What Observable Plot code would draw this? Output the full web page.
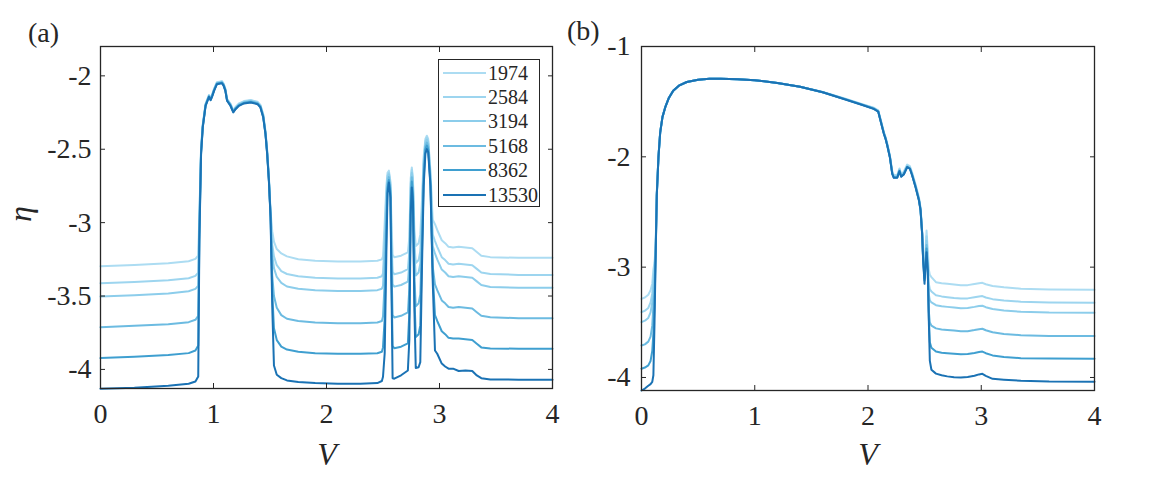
<!DOCTYPE html>
<html><head><meta charset="utf-8">
<script src="https://cdn.jsdelivr.net/npm/d3@7"></script>
<script src="https://cdn.jsdelivr.net/npm/@observablehq/plot@0.6"></script>
<style>
body{margin:0;background:#fff;}
#wrap{position:relative;width:1150px;height:478px;overflow:hidden;font-family:"Liberation Serif",serif;color:#262626;}
.panel{position:absolute;top:0;}
.lbl{position:absolute;font-family:"Liberation Serif",serif;color:#262626;white-space:nowrap;line-height:1;}
</style></head><body>
<div id="wrap"></div>
<script>
// ---------- data ----------
const series = ["1974", "2584", "3194", "5168", "8362", "13530"];
const colors = ["#acdcf2", "#9dd5ef", "#8ccdeb", "#6cbbe1", "#3f9fd0", "#1a72b4"];
const xTicks = [0, 1, 2, 3, 4];
const yTicksA = [-4, -3.5, -3, -2.5, -2];
const yTicksB = [-4, -3, -2, -1];

// panel (a)
const vA = [0, 0.3, 0.6, 0.78, 0.84, 0.865,
  0.875, 0.89, 0.905, 0.93, 0.96, 0.975, 0.99, 1.005, 1.03, 1.075, 1.09, 1.105, 1.12, 1.15, 1.175, 1.195, 1.225, 1.27, 1.33, 1.39, 1.415, 1.44,
  1.46, 1.475, 1.49, 1.505, 1.52, 1.535, 1.56, 1.6, 1.65, 1.75, 1.9, 2.1, 2.3, 2.45, 2.49,
  2.50, 2.515, 2.53, 2.54, 2.552, 2.566, 2.575, 2.585, 2.60, 2.66, 2.72, 2.733, 2.745, 2.755, 2.765, 2.778, 2.79, 2.815, 2.83, 2.845,
  2.86, 2.875, 2.888, 2.90, 2.92, 2.94, 2.96, 2.98, 3.02, 3.05, 3.08, 3.12, 3.17, 3.23, 3.29, 3.33, 3.37, 3.45, 3.7, 4.0];
const a1974 = [-3.297, -3.288, -3.277, -3.263, -3.247, -3.224,
  -2.95, -2.49, -2.33, -2.19, -2.13, -2.152, -2.122, -2.088, -2.043, -2.036, -2.054, -2.088, -2.156, -2.19, -2.234, -2.212, -2.188, -2.172, -2.165, -2.177, -2.198, -2.262,
  -2.375, -2.505, -2.685, -2.925, -3.06, -3.13, -3.18, -3.21, -3.23, -3.25, -3.26, -3.265, -3.265, -3.26, -3.25,
  -3.23, -3.0, -2.75, -2.66, -2.646, -2.72, -3.0, -3.22, -3.236, -3.225, -3.202, -3.10, -2.70, -2.624, -2.70, -3.05, -3.16, -3.14, -3.08, -2.85,
  -2.55, -2.43, -2.408, -2.43, -2.65, -2.98, -3.01, -3.05, -3.12, -3.14, -3.165, -3.17, -3.165, -3.17, -3.175, -3.20, -3.225, -3.235, -3.24, -3.24];
const a2584 = [-3.413, -3.404, -3.392, -3.379, -3.363, -3.340,
  -2.98, -2.50, -2.335, -2.193, -2.133, -2.155, -2.125, -2.091, -2.046, -2.039, -2.057, -2.091, -2.159, -2.193, -2.237, -2.215, -2.191, -2.175, -2.168, -2.18, -2.201, -2.266,
  -2.385, -2.515, -2.695, -2.94, -3.15, -3.23, -3.29, -3.33, -3.35, -3.365, -3.375, -3.38, -3.38, -3.375, -3.365,
  -3.345, -3.10, -2.80, -2.68, -2.66, -2.74, -3.10, -3.335, -3.351, -3.34, -3.317, -3.20, -2.74, -2.64, -2.72, -3.15, -3.275, -3.255, -3.195, -2.93,
  -2.58, -2.445, -2.42, -2.445, -2.68, -3.08, -3.125, -3.165, -3.235, -3.255, -3.28, -3.285, -3.28, -3.285, -3.29, -3.315, -3.34, -3.35, -3.356, -3.356];
const a3194 = [-3.503, -3.494, -3.483, -3.467, -3.451, -3.429,
  -3.0, -2.51, -2.34, -2.196, -2.136, -2.158, -2.128, -2.094, -2.049, -2.042, -2.06, -2.094, -2.162, -2.196, -2.24, -2.218, -2.195, -2.179, -2.172, -2.184, -2.205, -2.271,
  -2.388, -2.52, -2.70, -2.945, -3.22, -3.31, -3.37, -3.41, -3.435, -3.45, -3.46, -3.465, -3.465, -3.46, -3.45,
  -3.43, -3.18, -2.85, -2.70, -2.67, -2.76, -3.18, -3.42, -3.436, -3.425, -3.402, -3.28, -2.78, -2.66, -2.74, -3.22, -3.36, -3.34, -3.28, -3.0,
  -2.61, -2.46, -2.435, -2.46, -2.71, -3.16, -3.21, -3.25, -3.32, -3.34, -3.365, -3.37, -3.365, -3.37, -3.375, -3.40, -3.425, -3.438, -3.444, -3.444];
const a5168 = [-3.712, -3.703, -3.692, -3.678, -3.662, -3.635,
  -3.05, -2.52, -2.345, -2.199, -2.139, -2.161, -2.131, -2.097, -2.052, -2.045, -2.063, -2.097, -2.165, -2.199, -2.244, -2.222, -2.198, -2.182, -2.175, -2.187, -2.209, -2.276,
  -2.39, -2.525, -2.705, -2.95, -3.36, -3.50, -3.58, -3.63, -3.655, -3.67, -3.68, -3.685, -3.685, -3.68, -3.67,
  -3.64, -3.40, -2.95, -2.74, -2.69, -2.78, -3.30, -3.63, -3.646, -3.635, -3.612, -3.45, -2.85, -2.69, -2.79, -3.38, -3.57, -3.55, -3.49, -3.12,
  -2.66, -2.48, -2.455, -2.48, -2.72, -3.3, -3.42, -3.46, -3.53, -3.55, -3.575, -3.58, -3.575, -3.58, -3.585, -3.61, -3.635, -3.645, -3.651, -3.651];
const a8362 = [-3.923, -3.914, -3.902, -3.889, -3.871, -3.837,
  -3.08, -2.525, -2.348, -2.201, -2.141, -2.163, -2.133, -2.099, -2.054, -2.047, -2.065, -2.099, -2.167, -2.201, -2.246, -2.224, -2.201, -2.185, -2.178, -2.19, -2.212, -2.279,
  -2.393, -2.53, -2.71, -2.955, -3.48, -3.72, -3.80, -3.845, -3.865, -3.88, -3.89, -3.894, -3.894, -3.89, -3.88,
  -3.85, -3.65, -3.05, -2.77, -2.71, -2.80, -3.38, -3.84, -3.856, -3.845, -3.822, -3.62, -2.90, -2.72, -2.82, -3.50, -3.78, -3.76, -3.70, -3.2,
  -2.70, -2.50, -2.475, -2.50, -2.74, -3.35, -3.63, -3.67, -3.74, -3.76, -3.785, -3.79, -3.79, -3.795, -3.80, -3.825, -3.85, -3.857, -3.859, -3.859];
const a13530 = [-4.131, -4.125, -4.111, -4.098, -4.082, -4.048,
  -3.122, -2.533, -2.351, -2.204, -2.143, -2.166, -2.136, -2.102, -2.057, -2.050, -2.068, -2.102, -2.170, -2.204, -2.249, -2.227, -2.204, -2.188, -2.181, -2.193, -2.215, -2.283,
  -2.397, -2.533, -2.714, -2.964, -3.576, -3.973, -4.036, -4.059, -4.075, -4.086, -4.093, -4.098, -4.098, -4.093, -4.079,
  -4.05, -3.89, -3.20, -2.80, -2.726, -2.83, -3.44, -4.06, -4.063, -4.04, -4.007, -3.80, -2.95, -2.76, -2.86, -3.60, -3.99, -3.985, -3.95, -3.30,
  -2.75, -2.53, -2.499, -2.52, -2.75, -3.40, -3.871, -3.893, -3.96, -3.98, -3.995, -3.995, -4.011, -4.008, -4.011, -4.041, -4.06, -4.068, -4.07, -4.07];

// panel (b)
const vB = [0, 0.03, 0.06, 0.08, 0.095, 0.105,
  0.115, 0.125, 0.135, 0.15, 0.165, 0.185, 0.21, 0.24, 0.28, 0.33,
  0.4, 0.5, 0.6, 0.7, 0.85, 1.0, 1.2, 1.4, 1.6, 1.8,
  1.95, 2.05, 2.09, 2.11, 2.14, 2.155, 2.17, 2.193, 2.214, 2.228,
  2.258, 2.278, 2.293, 2.316, 2.346, 2.37, 2.39, 2.42, 2.45, 2.464,
  2.478, 2.487, 2.499, 2.508, 2.517, 2.528, 2.537, 2.546, 2.56, 2.6,
  2.65, 2.7, 2.76, 2.82, 2.88, 2.94, 2.98, 3.01, 3.04, 3.1,
  3.2, 3.35, 3.6, 4.0];
const b1974 = [-3.287, -3.275, -3.25, -3.21, -3.15, -3.02,
  -2.96, -2.8, -2.32, -1.99, -1.775, -1.638, -1.548, -1.469, -1.40, -1.355,
  -1.322, -1.302, -1.293, -1.292, -1.297, -1.306, -1.33, -1.364, -1.412, -1.474,
  -1.522, -1.555, -1.578, -1.655, -1.775, -1.82, -1.88, -1.985, -2.13, -2.165,
  -2.165, -2.105, -2.155, -2.135, -2.07, -2.085, -2.145, -2.25, -2.37, -2.46,
  -2.67, -2.9, -3.0, -2.85, -2.668, -2.85, -3.02, -3.07, -3.09, -3.136,
  -3.145, -3.151, -3.158, -3.165, -3.163, -3.152, -3.145, -3.142, -3.155, -3.17,
  -3.182, -3.195, -3.202, -3.205];
const b2584 = [-3.408, -3.395, -3.37, -3.32, -3.24, -3.1,
  -3.0, -2.82, -2.33, -1.99, -1.777, -1.639, -1.549, -1.469, -1.40, -1.355,
  -1.322, -1.302, -1.293, -1.292, -1.297, -1.306, -1.33, -1.364, -1.413, -1.476,
  -1.525, -1.558, -1.582, -1.66, -1.78, -1.826, -1.886, -1.992, -2.14, -2.175,
  -2.175, -2.115, -2.165, -2.145, -2.08, -2.095, -2.155, -2.26, -2.38, -2.47,
  -2.68, -2.91, -3.04, -2.9, -2.72, -2.95, -3.15, -3.2, -3.22, -3.255,
  -3.265, -3.272, -3.28, -3.285, -3.283, -3.272, -3.265, -3.262, -3.275, -3.29,
  -3.302, -3.313, -3.32, -3.323];
const b3194 = [-3.498, -3.485, -3.46, -3.41, -3.32, -3.17,
  -3.05, -2.84, -2.34, -1.995, -1.778, -1.64, -1.549, -1.47, -1.40, -1.355,
  -1.322, -1.302, -1.293, -1.292, -1.297, -1.306, -1.33, -1.365, -1.414, -1.477,
  -1.527, -1.56, -1.585, -1.663, -1.783, -1.83, -1.89, -1.996, -2.145, -2.18,
  -2.18, -2.12, -2.17, -2.15, -2.085, -2.1, -2.16, -2.265, -2.385, -2.475,
  -2.685, -2.92, -3.07, -2.93, -2.76, -3.0, -3.25, -3.3, -3.32, -3.345,
  -3.355, -3.36, -3.365, -3.372, -3.37, -3.36, -3.352, -3.35, -3.363, -3.38,
  -3.393, -3.405, -3.412, -3.414];
const b5168 = [-3.71, -3.70, -3.675, -3.63, -3.53, -3.35,
  -3.2, -2.86, -2.345, -1.997, -1.779, -1.64, -1.55, -1.47, -1.40, -1.355,
  -1.322, -1.302, -1.293, -1.292, -1.297, -1.306, -1.33, -1.365, -1.415, -1.478,
  -1.528, -1.562, -1.587, -1.666, -1.786, -1.833, -1.893, -1.999, -2.15, -2.185,
  -2.185, -2.125, -2.175, -2.155, -2.09, -2.104, -2.165, -2.27, -2.39, -2.48,
  -2.69, -2.93, -3.1, -2.96, -2.8, -3.05, -3.4, -3.5, -3.53, -3.555,
  -3.565, -3.57, -3.575, -3.582, -3.58, -3.57, -3.562, -3.558, -3.572, -3.59,
  -3.605, -3.617, -3.623, -3.625];
const b8362 = [-3.921, -3.91, -3.89, -3.85, -3.76, -3.6,
  -3.35, -2.88, -2.348, -1.998, -1.78, -1.64, -1.55, -1.47, -1.40, -1.355,
  -1.322, -1.302, -1.293, -1.292, -1.297, -1.306, -1.33, -1.365, -1.415, -1.479,
  -1.529, -1.564, -1.589, -1.668, -1.789, -1.835, -1.895, -2.001, -2.152, -2.188,
  -2.188, -2.128, -2.178, -2.158, -2.092, -2.106, -2.167, -2.273, -2.393, -2.483,
  -2.695, -2.935, -3.12, -2.98, -2.83, -3.04, -3.45, -3.68, -3.73, -3.765,
  -3.775, -3.78, -3.785, -3.79, -3.788, -3.778, -3.77, -3.765, -3.78, -3.8,
  -3.815, -3.825, -3.829, -3.83];
const b13530 = [-4.118, -4.1, -4.075, -4.06, -4.04, -3.98,
  -3.5, -2.9, -2.35, -2.0, -1.78, -1.64, -1.55, -1.47, -1.40, -1.355,
  -1.322, -1.302, -1.293, -1.292, -1.297, -1.306, -1.33, -1.365, -1.415, -1.48,
  -1.53, -1.565, -1.59, -1.671, -1.791, -1.837, -1.897, -2.003, -2.154, -2.19,
  -2.19, -2.13, -2.18, -2.16, -2.093, -2.108, -2.169, -2.275, -2.396, -2.486,
  -2.698, -2.94, -3.151, -3.0, -2.864, -3.03, -3.483, -3.85, -3.93, -3.965,
  -3.98, -3.99, -3.997, -4.0, -3.995, -3.985, -3.972, -3.967, -3.985, -4.012,
  -4.02, -4.03, -4.037, -4.039];

// ---------- build ----------
function toRows(v, arrs) {
  const rows = [];
  arrs.forEach((arr, k) => {
    if (arr.length !== v.length) throw new Error("length mismatch " + series[k] + " " + arr.length + " vs " + v.length);
    arr.forEach((e, i) => rows.push({V: v[i], eta: e, N: series[k]}));
  });
  return rows;
}
const rowsA = toRows(vA, [a1974, a2584, a3194, a5168, a8362, a13530]);
const rowsB = toRows(vB, [b1974, b2584, b3194, b5168, b8362, b13530]);

const FONT = "Liberation Serif";
const INK = "#262626";

function panel(rows, yDomain, yTicks, m, yPad) {
  return Plot.plot({
    width: 575, height: 478,
    marginLeft: m.l, marginRight: m.r, marginTop: m.t, marginBottom: m.b,
    x: {domain: [0, 4]},
    y: {domain: yDomain},
    color: {domain: series, range: colors},
    style: {fontFamily: FONT, fontSize: "28px", color: INK, background: "transparent", overflow: "visible"},
    marks: [
      Plot.line(rows, {x: "V", y: "eta", z: "N", stroke: "N", strokeWidth: 2, strokeLinejoin: "round"}),
      Plot.axisX(xTicks, {anchor: "bottom", tickSize: -5, tickFormat: () => "", label: null, stroke: INK}),
      Plot.axisX(xTicks, {anchor: "top", tickSize: -5, tickFormat: () => "", label: null, stroke: INK}),
      Plot.axisY(yTicks, {anchor: "left", tickSize: -5, tickFormat: () => "", label: null, stroke: INK}),
      Plot.axisY(yTicks, {anchor: "right", tickSize: -5, tickFormat: () => "", label: null, stroke: INK}),
      Plot.axisX(xTicks, {anchor: "bottom", tickSize: 0, tickPadding: 15, tickFormat: d => String(d), label: null, fill: INK, fontSize: 28}),
      Plot.axisY(yTicks, {anchor: "left", tickSize: 0, tickPadding: yPad, tickFormat: d => String(d), label: null, fill: INK, fontSize: 28}),
      Plot.frame({stroke: INK, strokeWidth: 1.3})
    ]
  });
}

const wrap = document.getElementById("wrap");
const pa = panel(rowsA, [-4.13, -1.8], yTicksA, {l: 100, r: 23, t: 46, b: 90}, 9);
pa.classList.add("panel"); pa.style.left = "0px";
wrap.appendChild(pa);
const pb = panel(rowsB, [-4.118, -1], yTicksB, {l: 66, r: 56, t: 46, b: 88}, 11);
pb.classList.add("panel"); pb.style.left = "575px";
wrap.appendChild(pb);

function label(text, css) {
  const d = document.createElement("div");
  d.className = "lbl";
  d.textContent = text;
  Object.assign(d.style, css);
  wrap.appendChild(d);
  return d;
}
label("(a)", {left: "28px", top: "19px", fontSize: "28px"});
label("(b)", {left: "567px", top: "17px", fontSize: "28px"});
label("V", {left: "327px", top: "438px", fontSize: "32px", fontStyle: "italic", transform: "translateX(-50%)"});
label("V", {left: "868px", top: "438px", fontSize: "32px", fontStyle: "italic", transform: "translateX(-50%)"});
label("η", {left: "20px", top: "214px", fontSize: "32px", fontStyle: "italic", transform: "translate(-50%,-50%) rotate(-90deg)"});

// legend
const leg = document.createElement("div");
Object.assign(leg.style, {position: "absolute", left: "438px", top: "59px", width: "102px", height: "148px",
  border: "1.3px solid " + INK, background: "#fff", boxSizing: "border-box"});
series.forEach((s, i) => {
  const cy = 12.5 + i * 24.4;
  const ln = document.createElement("div");
  Object.assign(ln.style, {position: "absolute", left: "4px", top: (cy - 1) + "px", width: "43px", height: "2px", background: colors[i]});
  leg.appendChild(ln);
  const tx = document.createElement("div");
  tx.className = "lbl";
  tx.textContent = s;
  Object.assign(tx.style, {left: "49px", top: (cy - 10) + "px", fontSize: "20px", lineHeight: "20px"});
  leg.appendChild(tx);
});
wrap.appendChild(leg);
</script>
</body></html>
